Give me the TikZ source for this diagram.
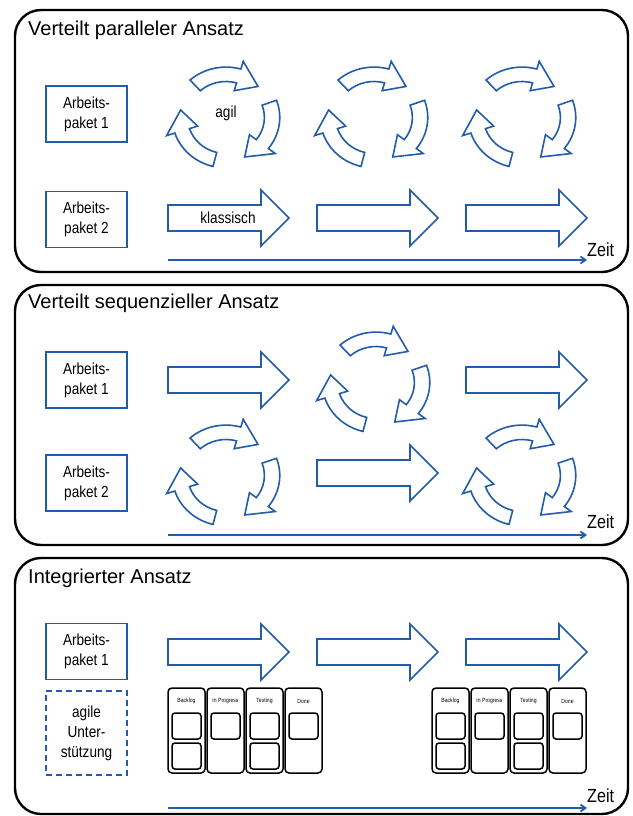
\documentclass[tikz,border=0pt]{standalone}
\usepackage{fontspec}
\setmainfont{Liberation Sans}
\newfontfamily\schmal[FakeStretch=0.85]{Liberation Sans}
\usetikzlibrary{positioning, calc, arrows.meta}
\definecolor{skizzenblau}{RGB}{34,92,170}

% gerader Blockpfeil, #1 = linkes Ende, #2 = Mitte (y)
\newcommand{\blockpfeil}[2]{%
  \draw[pfeil] (#1,#2-13) -- ++(93,0) -- ++(0,-15) -- ++(28,28) -- ++(-28,28)
    -- ++(0,-15) -- ++(-93,0) -- cycle;}

% drei Bogenpfeile im Kreis, #1/#2 = Mittelpunkt
\newcommand{\kreispfeile}[2]{%
  \begin{scope}[shift={(#1,#2)}, xscale=0.96, yscale=0.9]
    \foreach \a in {-132,-20,104}{%
      \draw[pfeil] (\a:56) arc[start angle=\a, end angle=\a+58, radius=56]
        -- (\a+58:65) -- (\a+86:48) -- (\a+58:31)
        -- (\a+58:40) arc[start angle=\a+58, end angle=\a, radius=40] -- cycle;}
  \end{scope}}

% Kanban-Board, #1 = Name, #2/#3 = linke obere Ecke
\newcommand{\kanban}[3]{%
  \foreach \spaltenname/\anzahl [count=\i from 0] in {Backlog/2, In Progress/1, Testing/2, Done/1}{%
    \draw[spalte] (#2+\i*39,#3) rectangle ++(37,85);
    \node[kopf] (#1-\i) at (#2+\i*39+18.5,#3+13) {\spaltenname};
    \foreach \k in {1,...,\anzahl}
      \draw[karte] (#2+\i*39+4,#3+\k*30-5) rectangle ++(29,26);
  }}

\begin{document}
\begin{tikzpicture}[x=1pt, y=-1pt,
  rahmen/.style={draw=black, line width=2.4pt, rounded corners=26pt, fill=white},
  titel/.style={font=\fontsize{20}{24}\selectfont, anchor=base west, inner sep=0pt},
  paket/.style={draw=skizzenblau, line width=1.6pt, minimum width=81pt, minimum height=56pt,
    align=center, inner sep=0pt, font=\schmal\fontsize{16}{20}\selectfont},
  stuetze/.style={paket, dash pattern=on 6pt off 4pt, minimum height=84pt},
  pfeil/.style={draw=skizzenblau, line width=1.6pt, fill=white},
  beschriftung/.style={font=\schmal\fontsize{16}{20}\selectfont},
  zeitachse/.style={draw=skizzenblau, line width=1.8pt, -{Straight Barb[length=5pt, width=7pt]}},
  zeitlabel/.style={font=\schmal\fontsize{19}{22}\selectfont, anchor=base west, inner sep=0pt},
  spalte/.style={draw=black, line width=1.5pt, rounded corners=4pt, fill=white},
  karte/.style={draw=black, line width=1.5pt, rounded corners=3pt},
  kopf/.style={font=\schmal\fontsize{6}{7}\selectfont, inner sep=0pt}
]
\useasboundingbox (0,0) rectangle (632,816);

% Verteilt paralleler Ansatz
\draw[rahmen] (15,10) rectangle (628,272);
\node[titel] (t1) at (28,36) {Verteilt paralleler Ansatz};
\node[paket] (p11) at (86.5,114) {Arbeits-\\paket 1};
\node[paket, below=48pt of p11] (p12) {Arbeits-\\paket 2};
\foreach \x in {0,148,296}{\kreispfeile{226+\x}{117.5}}
\node[beschriftung] (agil) at (226,113) {agil};
\foreach \x in {168,317,466}{\blockpfeil{\x}{218}}
\node[beschriftung] (klassisch) at (228,218) {klassisch};
\coordinate (z1a) at (168,260);
\coordinate (z1b) at (587,260);
\draw[zeitachse] (z1a) -- (z1b);
\node[zeitlabel] (zeit1) at (587,256) {Zeit};

% Verteilt sequenzieller Ansatz
\draw[rahmen] (15,285) rectangle (628,545);
\node[titel] (t2) at (28,308) {Verteilt sequenzieller Ansatz};
\node[paket] (p21) at (86.5,380) {Arbeits-\\paket 1};
\node[paket] (p22) at (86.5,483) {Arbeits-\\paket 2};
\blockpfeil{168}{380}
\kreispfeile{376}{382.5}
\blockpfeil{466}{380}
\kreispfeile{226}{475.5}
\blockpfeil{317}{473}
\kreispfeile{522}{475.5}
\coordinate (z2a) at (168,535);
\coordinate (z2b) at (587,535);
\draw[zeitachse] (z2a) -- (z2b);
\node[zeitlabel] (zeit2) at (587,528) {Zeit};

% Integrierter Ansatz
\draw[rahmen] (15,558) rectangle (628,814);
\node[titel] (t3) at (28,583) {Integrierter Ansatz};
\node[paket] (p31) at (86.5,651.5) {Arbeits-\\paket 1};
\node[stuetze, below=10pt of p31] (p32) {agile\\Unter-\\stützung};
\foreach \x in {168,317,466}{\blockpfeil{\x}{652}}
\kanban{kb1}{168}{688}
\kanban{kb2}{432}{688}
\coordinate (z3a) at (168,808);
\coordinate (z3b) at (587,808);
\draw[zeitachse] (z3a) -- (z3b);
\node[zeitlabel] (zeit3) at (587,802) {Zeit};
\end{tikzpicture}
\end{document}
